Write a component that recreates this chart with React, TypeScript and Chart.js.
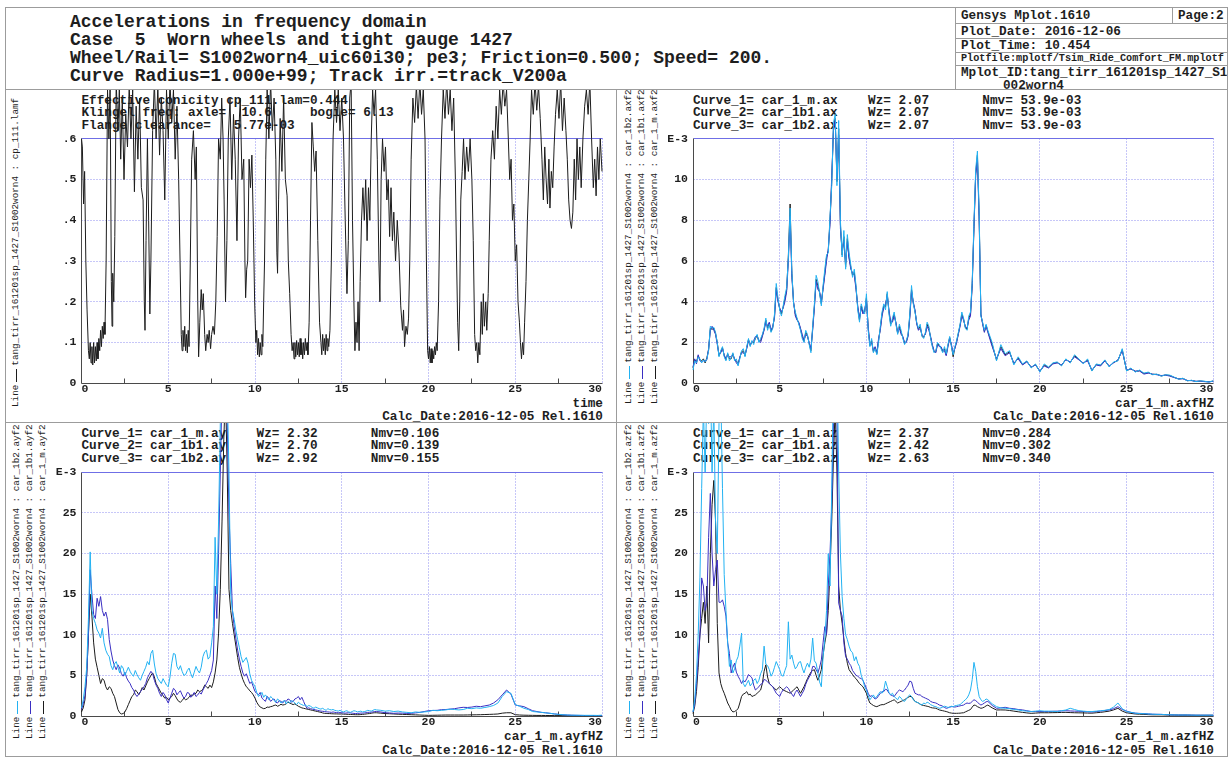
import React, { useEffect, useRef } from 'react';
import { Chart, registerables } from 'chart.js';

Chart.register(...registerables);

const FONT = '"Liberation Mono", "Courier New", Courier, monospace';
const TEXT = '#1e1e1e';
const LINE_GRAY = '#9c9c9c';
const GRID_BLUE = '#8f8ff0';
const FRAME_BLUE = '#6f6fe6';
const AXIS_DARK = '#4a4a4a';
const CURVE_BLACK = '#1c1c1c';
const CURVE_DARK_BLUE = '#3a2fc2';
const CURVE_LIGHT_BLUE = '#22b2f2';

// ---------- data ----------
const X_TICKS_HZ = [0, 5, 10, 15, 20, 25, 30];

// time [s], conicity cp_111.lamf
const CONICITY_SAMPLES: [number, number][] = [
  [0, 0.6], [0.05, 0.58], [0.12, 0.44], [0.18, 0.52], [0.25, 0.3], [0.32, 0.18], [0.4, 0.08], [0.45, 0.06], [0.5, 0.1], [0.55, 0.05],
  [0.6, 0.09], [0.65, 0.045], [0.7, 0.1], [0.75, 0.05], [0.8, 0.09], [0.85, 0.055], [0.9, 0.1], [0.95, 0.06], [1.0, 0.11], [1.05, 0.08],
  [1.1, 0.13], [1.15, 0.09], [1.2, 0.14], [1.25, 0.11], [1.3, 0.15], [1.35, 0.12], [1.42, 0.3], [1.5, 0.72], [1.58, 0.6], [1.65, 0.74],
  [1.72, 0.25], [1.76, 0.14], [1.8, 0.27], [1.86, 0.2], [1.92, 0.36], [2.0, 0.74], [2.1, 0.62], [2.18, 0.72], [2.26, 0.55], [2.35, 0.7],
  [2.45, 0.5], [2.55, 0.66], [2.65, 0.58], [2.75, 0.73], [2.85, 0.6], [2.95, 0.72], [3.05, 0.47], [3.15, 0.68], [3.25, 0.55], [3.35, 0.7],
  [3.45, 0.48], [3.55, 0.45], [3.62, 0.2], [3.66, 0.13], [3.72, 0.35], [3.8, 0.6], [3.87, 0.4], [3.94, 0.17], [4.0, 0.3], [4.1, 0.62],
  [4.2, 0.74], [4.3, 0.6], [4.4, 0.73], [4.5, 0.56], [4.6, 0.7], [4.7, 0.62], [4.8, 0.45], [4.9, 0.72], [5.0, 0.6], [5.1, 0.74],
  [5.2, 0.64], [5.3, 0.72], [5.4, 0.55], [5.5, 0.68], [5.6, 0.5], [5.68, 0.3], [5.75, 0.12], [5.8, 0.08], [5.85, 0.13], [5.9, 0.09],
  [5.95, 0.14], [6.0, 0.08], [6.05, 0.12], [6.1, 0.075], [6.15, 0.13], [6.2, 0.09], [6.27, 0.3], [6.35, 0.55], [6.45, 0.62], [6.55, 0.5],
  [6.62, 0.58], [6.7, 0.2], [6.75, 0.065], [6.82, 0.15], [6.9, 0.23], [6.96, 0.18], [7.02, 0.22], [7.1, 0.12], [7.16, 0.08], [7.24, 0.12],
  [7.3, 0.1], [7.36, 0.13], [7.44, 0.085], [7.5, 0.12], [7.58, 0.14], [7.66, 0.12], [7.74, 0.2], [7.82, 0.36], [7.9, 0.6], [8.0, 0.55],
  [8.08, 0.7], [8.16, 0.6], [8.22, 0.45], [8.3, 0.2], [8.38, 0.35], [8.46, 0.6], [8.56, 0.7], [8.66, 0.5], [8.76, 0.66], [8.86, 0.55],
  [8.96, 0.35], [9.05, 0.6], [9.15, 0.7], [9.25, 0.5], [9.35, 0.55], [9.42, 0.3], [9.46, 0.21], [9.52, 0.28], [9.58, 0.3], [9.66, 0.55],
  [9.74, 0.48], [9.82, 0.56], [9.9, 0.4], [9.98, 0.2], [10.05, 0.1], [10.1, 0.13], [10.15, 0.07], [10.2, 0.11], [10.25, 0.065], [10.3, 0.1],
  [10.35, 0.07], [10.4, 0.12], [10.45, 0.09], [10.5, 0.2], [10.55, 0.3], [10.62, 0.55], [10.7, 0.72], [10.8, 0.6], [10.9, 0.74], [11.0, 0.62],
  [11.1, 0.7], [11.2, 0.55], [11.26, 0.32], [11.3, 0.27], [11.36, 0.45], [11.45, 0.65], [11.55, 0.52], [11.65, 0.7], [11.75, 0.5], [11.85, 0.46],
  [11.92, 0.3], [12.0, 0.22], [12.08, 0.12], [12.14, 0.08], [12.2, 0.1], [12.25, 0.06], [12.3, 0.1], [12.35, 0.065], [12.4, 0.105], [12.45, 0.07],
  [12.5, 0.1], [12.55, 0.065], [12.6, 0.11], [12.65, 0.07], [12.7, 0.1], [12.75, 0.06], [12.8, 0.1], [12.85, 0.07], [12.9, 0.11], [12.95, 0.08],
  [13.0, 0.1], [13.05, 0.07], [13.12, 0.15], [13.2, 0.4], [13.28, 0.64], [13.36, 0.58], [13.44, 0.52], [13.52, 0.57], [13.62, 0.35], [13.72, 0.15],
  [13.8, 0.1], [13.85, 0.07], [13.9, 0.12], [13.95, 0.08], [14.0, 0.11], [14.05, 0.07], [14.1, 0.12], [14.15, 0.08], [14.2, 0.11], [14.25, 0.09],
  [14.32, 0.13], [14.4, 0.3], [14.5, 0.6], [14.6, 0.72], [14.7, 0.64], [14.8, 0.72], [14.9, 0.62], [15.0, 0.7], [15.1, 0.6], [15.2, 0.4],
  [15.3, 0.22], [15.38, 0.35], [15.46, 0.7], [15.54, 0.74], [15.62, 0.4], [15.7, 0.2], [15.76, 0.08], [15.82, 0.15], [15.88, 0.1], [15.94, 0.2],
  [16.0, 0.08], [16.06, 0.25], [16.14, 0.4], [16.22, 0.48], [16.3, 0.4], [16.38, 0.5], [16.46, 0.35], [16.54, 0.48], [16.62, 0.4], [16.7, 0.6],
  [16.78, 0.72], [16.86, 0.66], [16.95, 0.72], [17.05, 0.55], [17.14, 0.3], [17.2, 0.2], [17.27, 0.5], [17.35, 0.6], [17.44, 0.52], [17.52, 0.58],
  [17.6, 0.45], [17.68, 0.5], [17.76, 0.36], [17.84, 0.48], [17.92, 0.35], [18.0, 0.42], [18.1, 0.3], [18.2, 0.4], [18.3, 0.32], [18.4, 0.19],
  [18.5, 0.13], [18.56, 0.18], [18.62, 0.09], [18.7, 0.14], [18.78, 0.12], [18.85, 0.16], [18.92, 0.3], [19.0, 0.55], [19.1, 0.7], [19.2, 0.64],
  [19.3, 0.73], [19.4, 0.65], [19.5, 0.74], [19.6, 0.66], [19.7, 0.72], [19.8, 0.6], [19.88, 0.3], [19.95, 0.08], [20.0, 0.06], [20.05, 0.09],
  [20.1, 0.05], [20.15, 0.085], [20.2, 0.05], [20.25, 0.08], [20.3, 0.06], [20.35, 0.09], [20.4, 0.07], [20.45, 0.1], [20.5, 0.08], [20.58, 0.2],
  [20.66, 0.45], [20.75, 0.6], [20.85, 0.72], [20.95, 0.65], [21.05, 0.74], [21.15, 0.66], [21.25, 0.72], [21.35, 0.62], [21.45, 0.7], [21.55, 0.5],
  [21.62, 0.3], [21.68, 0.15], [21.74, 0.08], [21.8, 0.2], [21.86, 0.45], [21.94, 0.52], [22.02, 0.6], [22.1, 0.5], [22.2, 0.58], [22.3, 0.52],
  [22.4, 0.6], [22.5, 0.5], [22.58, 0.35], [22.66, 0.12], [22.72, 0.08], [22.78, 0.1], [22.84, 0.05], [22.9, 0.1], [22.96, 0.07], [23.04, 0.2],
  [23.1, 0.12], [23.16, 0.22], [23.22, 0.14], [23.3, 0.2], [23.36, 0.13], [23.44, 0.22], [23.5, 0.35], [23.6, 0.55], [23.7, 0.62], [23.8, 0.55],
  [23.9, 0.68], [24.0, 0.6], [24.1, 0.72], [24.2, 0.66], [24.3, 0.74], [24.4, 0.68], [24.5, 0.72], [24.6, 0.6], [24.68, 0.5], [24.76, 0.55],
  [24.84, 0.4], [24.92, 0.44], [25.0, 0.3], [25.08, 0.34], [25.16, 0.2], [25.24, 0.15], [25.3, 0.1], [25.36, 0.06], [25.42, 0.1], [25.48, 0.07],
  [25.54, 0.15], [25.62, 0.25], [25.7, 0.4], [25.78, 0.5], [25.86, 0.6], [25.94, 0.72], [26.04, 0.66], [26.14, 0.74], [26.24, 0.67], [26.34, 0.73],
  [26.44, 0.65], [26.54, 0.55], [26.62, 0.45], [26.7, 0.58], [26.78, 0.5], [26.86, 0.44], [26.94, 0.55], [27.0, 0.43], [27.08, 0.52], [27.16, 0.48],
  [27.24, 0.58], [27.32, 0.66], [27.42, 0.72], [27.52, 0.65], [27.62, 0.74], [27.72, 0.62], [27.82, 0.7], [27.92, 0.62], [28.0, 0.55], [28.08, 0.45],
  [28.16, 0.4], [28.24, 0.38], [28.32, 0.42], [28.4, 0.55], [28.48, 0.45], [28.56, 0.6], [28.64, 0.5], [28.72, 0.58], [28.8, 0.48], [28.9, 0.6],
  [29.0, 0.68], [29.1, 0.72], [29.2, 0.66], [29.3, 0.74], [29.4, 0.6], [29.5, 0.48], [29.58, 0.55], [29.66, 0.46], [29.74, 0.58], [29.82, 0.5],
  [29.9, 0.6], [30.0, 0.52],
];

// common frequency grid [Hz] for the spectra
const FREQ_HZ = [
  // 0 - 2.0
  0, 0.1, 0.2, 0.3, 0.4, 0.5, 0.6, 0.7, 0.8, 0.9, 1.0, 1.1, 1.2, 1.3, 1.4, 1.5, 1.6, 1.7, 1.8, 1.9, 2.0,
  // 2.1 - 7.6
  2.1, 2.2, 2.3, 2.4, 2.5, 2.6, 2.7, 2.8, 2.9, 3.0, 3.1, 3.2, 3.3, 3.4, 3.5, 3.6, 3.7, 3.8, 3.9, 4.0,
  4.1, 4.2, 4.3, 4.4, 4.5, 4.6, 4.7, 4.8, 4.9, 5.0, 5.1, 5.2, 5.3, 5.4, 5.5, 5.6, 5.7, 5.8, 5.9, 6.0,
  6.1, 6.2, 6.3, 6.4, 6.5, 6.6, 6.7, 6.8, 6.9, 7.0, 7.1, 7.2, 7.3, 7.4, 7.5, 7.6,
  // 7.7 - 9.0
  7.7, 7.8, 7.9, 8.0, 8.1, 8.2, 8.3, 8.4, 8.5, 8.6, 8.7, 8.8, 8.9, 9.0,
  // 9.1 - 17.0
  9.1, 9.2, 9.3, 9.4, 9.5, 9.6, 9.7, 9.8, 9.9, 10.0, 10.1, 10.2, 10.3, 10.4, 10.5, 10.6, 10.7, 10.8, 10.9, 11.0,
  11.1, 11.2, 11.3, 11.4, 11.5, 11.6, 11.7, 11.8, 11.9, 12.0, 12.1, 12.2, 12.3, 12.4, 12.5, 12.6, 12.7, 12.8, 12.9, 13.0,
  13.1, 13.2, 13.3, 13.4, 13.5, 13.6, 13.7, 13.8, 13.9, 14.0, 14.1, 14.2, 14.3, 14.4, 14.5, 14.6, 14.7, 14.8, 14.9, 15.0,
  15.1, 15.2, 15.3, 15.4, 15.5, 15.6, 15.7, 15.8, 15.9, 16.0, 16.1, 16.2, 16.3, 16.4, 16.5, 16.6, 16.7, 16.8, 16.9, 17.0,
  // 17.25 - 30
  17.25, 17.5, 17.75, 18, 18.25, 18.5, 18.75, 19, 19.25, 19.5, 19.75, 20, 20.25, 20.5, 20.75, 21, 21.25, 21.5, 21.75, 22,
  22.25, 22.5, 22.75, 23, 23.25, 23.5, 23.75, 24, 24.25, 24.5, 24.75, 25, 25.25, 25.5, 25.75, 26, 26.25, 26.5, 26.75, 27,
  27.25, 27.5, 27.75, 28, 28.25, 28.5, 28.75, 29, 29.25, 29.5, 29.75, 30,
];

// longitudinal (ax) spectra, E-3
const AX_CAR_1_M = [
  0.75, 1.15, 1.05, 1.35, 1.15, 1.1, 1.2, 1.0, 1.25, 1.65, 2.7, 2.65, 2.7, 2.45, 2.0, 1.35, 1.55, 1.75, 1.35, 1.15, 1.45,
  1.2, 1.2, 1.45, 1.15, 1.1, 0.95, 1.25, 1.55, 1.6, 1.35, 1.75, 2.15, 1.85, 2.05, 2.0, 2.2, 2.35, 2.05, 2.1, 2.35,
  2.65, 3.1, 2.7, 2.95, 2.55, 2.75, 3.3, 4.7, 4.1, 3.65, 3.4, 3.75, 4.15, 4.6, 6.3, 8.8, 5.4, 3.95, 3.4, 3.15,
  2.95, 2.65, 2.3, 2.05, 2.5, 2.35, 1.95, 1.6, 2.7, 3.8, 5.1, 4.8, 4.45, 3.9, 4.7, 5.4,
  6.2, 6.5, 8.0, 9.9, 12.6, 13.0, 9.9, 12.5, 7.8, 6.3, 7.2, 5.7, 7.1, 6.2,
  5.7, 5.3, 5.45, 4.7, 3.7, 3.1, 3.8, 3.5, 3.5, 4.2, 2.7, 1.85, 2.1, 1.55, 1.75, 1.45, 2.1, 2.7, 3.4, 3.8,
  3.75, 4.4, 3.5, 2.9, 3.1, 3.4, 2.95, 2.45, 2.8, 2.5, 2.25, 1.95, 2.05, 2.35, 3.3, 4.6, 3.95, 3.55, 2.95, 2.65,
  2.8, 2.35, 2.25, 2.45, 2.9, 2.7, 2.25, 1.85, 1.55, 1.55, 1.95, 1.85, 1.75, 1.55, 1.7, 1.4, 1.85, 2.25, 1.85, 1.3,
  1.75, 2.05, 2.45, 2.85, 3.4, 3.15, 2.75, 2.65, 3.2, 3.4, 4.9, 7.7, 10.3, 11.2, 8.2, 3.35, 2.95, 2.55, 2.85, 2.55,
  1.9, 1.15, 1.8, 1.4, 1.55, 0.95, 1.25, 0.92, 1.08, 0.78, 0.92, 0.58, 0.9, 0.78, 0.98, 1.02, 0.88, 1.18, 1.02, 1.35,
  1.18, 0.98, 1.15, 0.62, 0.92, 0.88, 1.12, 0.82, 1.02, 1.12, 1.65, 0.62, 0.72, 0.58, 0.62, 0.48, 0.52, 0.44, 0.44, 0.36,
  0.41, 0.38, 0.29, 0.21, 0.24, 0.13, 0.14, 0.09, 0.11, 0.09, 0.07, 0.11,
];
const AX_CAR_1B1 = [
  0.8, 1.2, 0.95, 1.4, 1.1, 1.05, 1.1, 1.1, 1.15, 1.7, 2.6, 2.8, 2.6, 2.4, 1.9, 1.4, 1.5, 1.7, 1.4, 1.2, 1.4,
  1.3, 1.3, 1.4, 1.2, 1.0, 0.9, 1.3, 1.5, 1.5, 1.4, 1.7, 2.1, 1.9, 2.0, 2.1, 2.3, 2.3, 2.1, 2.0, 2.3,
  2.6, 3.0, 2.8, 3.0, 2.6, 2.8, 3.2, 4.6, 4.0, 3.7, 3.5, 3.7, 4.0, 4.5, 6.0, 8.2, 5.2, 4.0, 3.3, 3.1,
  3.0, 2.7, 2.4, 2.1, 2.4, 2.3, 2.0, 1.7, 2.6, 3.7, 5.0, 4.6, 4.5, 4.0, 4.6, 5.3,
  6.0, 6.6, 7.8, 10.2, 12.4, 12.9, 10.1, 12.2, 7.6, 6.5, 7.0, 5.9, 6.9, 6.1,
  5.6, 5.4, 5.3, 4.6, 3.8, 3.2, 3.7, 3.4, 3.6, 4.1, 2.8, 1.9, 2.0, 1.6, 1.8, 1.5, 2.2, 2.6, 3.3, 3.7,
  3.9, 4.3, 3.6, 3.0, 3.0, 3.3, 3.0, 2.5, 2.7, 2.4, 2.3, 2.0, 2.0, 2.3, 3.2, 4.5, 4.0, 3.6, 2.9, 2.6,
  2.7, 2.4, 2.3, 2.4, 2.8, 2.6, 2.3, 1.9, 1.6, 1.5, 1.9, 1.8, 1.8, 1.6, 1.6, 1.35, 1.8, 2.2, 1.9, 1.5,
  1.7, 2.0, 2.4, 2.8, 3.3, 3.1, 2.8, 2.7, 3.1, 3.3, 4.8, 7.6, 10.2, 11.0, 8.0, 3.4, 2.9, 2.5, 2.8, 2.5,
  1.8, 1.2, 1.7, 1.35, 1.5, 1.0, 1.2, 0.9, 1.05, 0.8, 0.9, 0.6, 0.85, 0.75, 0.95, 1.0, 0.9, 1.15, 1.05, 1.3,
  1.15, 1.0, 1.1, 0.65, 0.9, 0.85, 1.1, 0.85, 1.0, 1.15, 1.6, 0.65, 0.7, 0.6, 0.6, 0.45, 0.5, 0.45, 0.42, 0.38,
  0.4, 0.35, 0.28, 0.22, 0.22, 0.14, 0.13, 0.1, 0.1, 0.08, 0.07, 0.1,
];
const AX_CAR_1B2 = [
  0.65, 1.1, 1.0, 1.3, 1.2, 1.0, 1.15, 1.05, 1.2, 1.6, 2.8, 2.7, 2.75, 2.5, 2.0, 1.3, 1.6, 1.8, 1.3, 1.1, 1.5,
  1.1, 1.25, 1.5, 1.1, 1.2, 0.85, 1.2, 1.6, 1.7, 1.3, 1.8, 2.2, 1.8, 2.1, 1.9, 2.25, 2.4, 2.0, 2.2, 2.4,
  2.7, 3.2, 2.6, 2.9, 2.5, 2.7, 3.4, 4.9, 4.2, 3.6, 3.3, 3.8, 4.3, 4.7, 6.2, 8.6, 5.5, 3.9, 3.5, 3.2,
  2.9, 2.6, 2.2, 2.0, 2.6, 2.4, 1.9, 1.5, 2.8, 3.9, 5.3, 5.0, 4.4, 3.8, 4.8, 5.6,
  6.3, 6.4, 8.2, 9.7, 12.8, 13.2, 9.7, 12.9, 8.0, 6.2, 7.5, 5.6, 7.3, 6.4,
  5.8, 5.2, 5.6, 4.8, 3.6, 3.0, 3.9, 3.6, 3.4, 4.4, 2.6, 1.8, 2.2, 1.5, 1.7, 1.4, 2.0, 2.8, 3.5, 3.9,
  3.6, 4.5, 3.4, 2.8, 3.2, 3.5, 2.9, 2.4, 2.9, 2.6, 2.2, 1.9, 2.1, 2.4, 3.4, 4.8, 3.9, 3.5, 3.0, 2.7,
  2.9, 2.3, 2.2, 2.5, 3.0, 2.8, 2.2, 1.8, 1.5, 1.6, 2.0, 1.9, 1.7, 1.5, 1.8, 1.45, 1.9, 2.3, 1.8, 1.4,
  1.8, 2.1, 2.5, 2.9, 3.5, 3.2, 2.7, 2.6, 3.3, 3.5, 5.0, 7.9, 10.5, 11.4, 8.4, 3.3, 3.0, 2.6, 2.9, 2.6,
  2.0, 1.1, 1.9, 1.45, 1.6, 0.9, 1.3, 0.95, 1.1, 0.75, 0.95, 0.55, 0.95, 0.8, 1.0, 1.05, 0.85, 1.2, 1.0, 1.4,
  1.2, 0.95, 1.2, 0.6, 0.95, 0.9, 1.15, 0.8, 1.05, 1.1, 1.7, 0.6, 0.75, 0.55, 0.65, 0.5, 0.55, 0.42, 0.45, 0.35,
  0.42, 0.4, 0.3, 0.2, 0.25, 0.12, 0.15, 0.08, 0.12, 0.1, 0.06, 0.12,
];

// lateral (ay) spectra, E-3
const AY_CAR_1_M = [
  0.5, 1.0, 2.0, 5, 10, 15, 12.3, 9, 7, 6, 5.0, 4.0, 4.6, 4.4, 3.6, 3.2, 3.6, 3.4, 2.8, 2.4, 1.6,
  0.8, 0.4, 0.25, 0.3, 0.5, 0.9, 1.4, 1.9, 2.4, 2.6, 3.2, 3.0, 2.6, 3.0, 3.5, 3.2, 3.7, 4.2, 4.6, 5.0,
  5.3, 4.8, 4.0, 3.6, 3.2, 2.8, 2.5, 2.2, 2.3, 2.0, 2.2, 2.4, 2.8, 2.5, 2.1, 1.8, 1.7, 1.9, 2.2, 2.0,
  2.1, 2.3, 2.6, 2.5, 2.7, 2.8, 3.2, 3.0, 3.1, 3.3, 3.8, 3.6, 3.4, 3.8, 3.5, 4.2,
  5.3, 6.9, 10.2, 15.6, 24, 34, 40, 30, 15.6, 13, 11.4, 10, 8.6, 7.2,
  6.0, 5.2, 4.5, 4.0, 3.6, 3.4, 3.1, 2.9, 2.6, 2.2, 1.7, 1.35, 1.1, 1.0, 0.9, 0.95, 1.1, 1.07, 1.15, 1.2,
  1.3, 1.35, 1.2, 1.3, 1.45, 1.35, 1.4, 1.5, 1.7, 1.6, 1.5, 1.4, 1.5, 1.35, 1.2, 1.1, 1.0, 0.95, 0.9, 0.85,
  0.8, 0.75, 0.7, 0.65, 0.6, 0.55, 0.5, 0.45, 0.38, 0.33, 0.32, 0.3, 0.3, 0.28, 0.27, 0.26, 0.26, 0.25, 0.25, 0.25,
  0.23, 0.22, 0.21, 0.2, 0.19, 0.18, 0.17, 0.16, 0.16, 0.16, 0.18, 0.2, 0.22, 0.25, 0.28, 0.3, 0.34, 0.38, 0.4, 0.4,
  0.35, 0.3, 0.28, 0.25, 0.22, 0.2, 0.18, 0.16, 0.14, 0.12, 0.1, 0.08, 0.09, 0.1, 0.11, 0.12, 0.12, 0.12, 0.12, 0.12,
  0.13, 0.14, 0.15, 0.16, 0.18, 0.2, 0.22, 0.25, 0.35, 0.4, 0.4, 0.16, 0.12, 0.1, 0.09, 0.08, 0.07, 0.07, 0.06, 0.06,
  0.05, 0.05, 0.05, 0.05, 0.05, 0.05, 0.05, 0.05, 0.05, 0.05, 0.05, 0.05,
];
const AY_CAR_1B1 = [
  0.8, 1.5, 2.5, 5, 10, 18, 15, 12.5, 12, 14.5, 13.5, 14.7, 13.0, 12.3, 12.8, 11.9, 9.4, 8.0, 6.9, 6.2, 5.7,
  6.3, 5.9, 5.2, 4.9, 5.4, 4.7, 4.3, 4.0, 3.5, 3.2, 2.7, 2.4, 2.7, 3.0, 3.3, 3.6, 4.0, 4.7, 5.1, 5.5,
  5.2, 4.4, 3.8, 3.4, 2.8, 2.4, 2.9, 2.6, 2.0, 1.6, 2.2, 2.8, 3.4, 3.2, 2.6, 2.9, 3.1, 2.6, 2.2, 2.4,
  2.9, 2.8, 2.3, 2.6, 2.9, 2.4, 2.6, 2.9, 2.7, 3.2, 3.6, 4.0, 4.4, 5.0, 5.6, 6.9,
  16, 12, 20, 30, 40, 44, 42, 36, 25, 18.8, 13, 11, 9.5, 8.1,
  7.0, 6.1, 5.3, 4.9, 5.2, 4.6, 4.0, 4.2, 3.6, 3.0, 2.8, 2.6, 2.9, 2.2, 2.0, 1.8, 2.4, 2.2, 1.8, 2.0,
  2.1, 1.7, 1.6, 1.9, 1.8, 1.6, 1.9, 1.8, 2.1, 2.0, 1.7, 1.8, 2.1, 2.2, 2.4, 2.0, 2.3, 1.8, 1.3, 0.95,
  1.0, 0.9, 0.85, 0.8, 0.75, 0.7, 0.65, 0.6, 0.58, 0.55, 0.52, 0.5, 0.48, 0.45, 0.5, 0.45, 0.42, 0.4, 0.42, 0.4,
  0.38, 0.35, 0.38, 0.4, 0.38, 0.35, 0.32, 0.3, 0.32, 0.33, 0.36, 0.35, 0.38, 0.4, 0.45, 0.45, 0.48, 0.5, 0.55, 0.55,
  0.5, 0.4, 0.38, 0.33, 0.36, 0.35, 0.32, 0.33, 0.38, 0.45, 0.55, 0.65, 0.68, 0.7, 0.78, 0.8, 0.85, 0.9, 1.0, 1.07,
  1.05, 1.1, 1.2, 1.15, 1.25, 1.35, 1.6, 2.0, 2.6, 3.2, 2.7, 1.35, 1.25, 1.15, 0.9, 0.65, 0.55, 0.45, 0.4, 0.33,
  0.26, 0.2, 0.15, 0.12, 0.1, 0.08, 0.07, 0.06, 0.06, 0.05, 0.05, 0.05,
];
const AY_CAR_1B2 = [
  1.0, 2.0, 3.6, 6.0, 12, 20.2, 13, 12, 11.4, 10.6, 10.2, 9.6, 10.8, 9.0, 8.1, 7.6, 7.3, 6.2, 5.7, 6.4, 6.7,
  6.0, 5.3, 6.2, 5.9, 5.0, 5.5, 6.0, 5.5, 5.1, 4.9, 5.6, 5.1, 4.7, 4.4, 5.0, 5.5, 6.0, 6.7, 6.3, 7.7,
  8.1, 6.4, 5.2, 4.6, 4.3, 4.0, 4.6, 4.2, 3.8, 3.6, 4.8, 6.5, 7.7, 7.6, 6.1, 5.7, 6.2, 5.5, 5.0, 5.1,
  5.6, 5.9, 5.2, 4.7, 5.4, 6.1, 5.6, 5.3, 6.0, 7.3, 7.9, 8.1, 7.0, 7.3, 9.0, 11.0,
  22.0, 15, 24, 36, 42, 45, 44, 40, 30, 15.0, 13.0, 11.9, 10.5, 9.4,
  8.4, 7.3, 6.6, 6.9, 7.2, 6.5, 5.2, 4.4, 4.0, 3.6, 2.9, 2.4, 2.6, 2.9, 2.3, 2.6, 2.3, 2.0, 2.4, 2.2,
  1.9, 1.7, 2.1, 1.9, 1.6, 1.8, 1.9, 1.5, 1.8, 1.6, 1.9, 1.8, 1.6, 1.4, 1.7, 1.5, 1.4, 1.3, 1.4, 1.15,
  1.3, 1.2, 1.05, 0.95, 1.1, 1.0, 0.9, 0.85, 0.95, 0.8, 0.7, 0.9, 0.8, 0.75, 0.8, 0.7, 0.65, 0.6, 0.7, 0.55,
  0.5, 0.6, 0.65, 0.5, 0.45, 0.55, 0.65, 0.6, 0.5, 0.55, 0.6, 0.5, 0.55, 0.6, 0.7, 0.65, 0.6, 0.7, 0.8, 0.75,
  0.7, 0.6, 0.65, 0.55, 0.6, 0.5, 0.45, 0.4, 0.5, 0.45, 0.5, 0.55, 0.7, 0.65, 0.7, 0.75, 0.85, 0.8, 0.75, 0.8,
  0.95, 0.9, 1.0, 0.95, 1.05, 1.15, 1.3, 1.6, 2.4, 3.0, 2.8, 1.4, 1.2, 0.95, 0.8, 0.55, 0.5, 0.45, 0.38, 0.33,
  0.25, 0.2, 0.15, 0.12, 0.1, 0.1, 0.09, 0.08, 0.08, 0.08, 0.07, 0.1,
];

// vertical (az) spectra, E-3
const AZ_CAR_1_M = [
  0.3, 1.2, 3, 6, 10, 12, 14, 11.4, 16, 9, 20, 26, 29, 24, 11.4, 5.3, 4.0, 3.3, 2.8, 2.2, 1.6,
  1.2, 0.74, 0.5, 0.55, 0.7, 0.9, 1.6, 2.4, 2.7, 2.8, 3.0, 2.6, 2.7, 2.4, 2.5, 2.6, 2.8, 3.0, 3.2, 4.0,
  5.5, 6.3, 4.8, 4.0, 3.8, 3.6, 3.4, 3.2, 3.4, 3.6, 3.4, 3.2, 3.1, 3.0, 2.9, 2.8, 3.0, 3.2, 3.4, 3.6,
  3.2, 2.8, 3.2, 3.6, 4.1, 4.6, 5.0, 5.4, 5.6, 5.7, 5.0, 4.4, 5.0, 5.7, 7.5, 9.0,
  10.2, 13, 18, 24, 32, 38, 30, 16, 13, 11.4, 9.5, 7.7, 6.5, 5.7,
  5.4, 5.1, 4.8, 4.6, 4.3, 4.0, 3.8, 3.6, 3.2, 2.8, 2.1, 1.6, 1.45, 1.3, 1.2, 1.15, 1.25, 1.35, 1.4, 1.4,
  1.5, 1.6, 1.7, 1.8, 1.9, 2.0, 1.8, 1.6, 1.7, 1.8, 1.9, 2.0, 2.15, 2.3, 2.4, 2.4, 2.1, 1.8, 1.7, 1.6,
  1.45, 1.35, 1.3, 1.25, 1.2, 1.15, 1.05, 1.0, 0.98, 0.95, 0.85, 0.75, 0.7, 0.65, 0.6, 0.55, 0.48, 0.4, 0.36, 0.33,
  0.33, 0.33, 0.34, 0.35, 0.38, 0.4, 0.5, 0.6, 0.7, 0.8, 1.1, 1.35, 1.3, 1.15, 1.05, 0.95, 1.0, 1.1, 1.25, 1.35,
  1.0, 0.74, 0.75, 0.74, 0.68, 0.6, 0.52, 0.45, 0.38, 0.33, 0.36, 0.4, 0.4, 0.4, 0.41, 0.42, 0.44, 0.45, 0.42, 0.4,
  0.39, 0.38, 0.36, 0.35, 0.4, 0.45, 0.52, 0.6, 0.75, 0.95, 0.6, 0.4, 0.32, 0.25, 0.22, 0.2, 0.17, 0.15, 0.15, 0.15,
  0.13, 0.12, 0.11, 0.1, 0.1, 0.1, 0.09, 0.08, 0.08, 0.08, 0.08, 0.08,
];
const AZ_CAR_1B1 = [
  0.5, 1.5, 4, 7, 10, 17, 16, 13, 14, 22, 27.4, 20, 16, 18, 19.2, 14, 14, 14.3, 13.5, 12.3, 9,
  7.7, 5.3, 6.0, 6.5, 5.4, 4.9, 4.5, 4.0, 4.4, 4.2, 4.6, 5.1, 4.9, 4.7, 3.8, 3.2, 3.4, 3.6, 3.9, 4.0,
  4.5, 4.4, 4.2, 4.0, 3.8, 3.6, 3.2, 2.8, 2.6, 2.4, 2.9, 3.2, 3.4, 3.6, 3.4, 3.0, 2.7, 2.4, 2.9, 3.2,
  2.8, 2.4, 2.8, 3.2, 3.9, 4.4, 4.8, 5.2, 6.1, 6.1, 5.7, 5.3, 6.0, 6.9, 9.0, 11.0,
  10, 16, 20, 26, 36, 42, 38, 13.9, 13, 12.3, 9, 7.3, 7.0, 6.5,
  6.2, 5.6, 5.3, 5.0, 4.9, 4.7, 4.6, 4.4, 3.9, 3.4, 2.8, 2.4, 2.5, 2.3, 2.1, 2.2, 2.5, 2.8, 3.0, 3.0,
  3.3, 3.2, 2.8, 2.6, 2.5, 2.4, 2.7, 3.0, 3.2, 3.1, 3.0, 3.2, 3.5, 3.8, 4.3, 4.2, 3.4, 2.8, 2.7, 2.6,
  2.6, 2.4, 2.3, 2.2, 2.1, 2.0, 1.8, 1.7, 1.65, 1.6, 1.5, 1.35, 1.3, 1.2, 1.05, 0.95, 1.0, 1.1, 1.15, 1.15,
  1.1, 1.15, 1.2, 1.25, 1.3, 1.35, 1.5, 1.6, 1.55, 1.6, 1.8, 2.0, 1.9, 1.7, 1.5, 1.35, 1.45, 1.6, 1.75, 1.8,
  1.3, 0.95, 1.0, 1.07, 0.95, 0.9, 0.8, 0.75, 0.65, 0.55, 0.55, 0.55, 0.55, 0.55, 0.58, 0.6, 0.62, 0.65, 0.62, 0.6,
  0.58, 0.55, 0.52, 0.5, 0.55, 0.6, 0.68, 0.75, 0.9, 1.15, 0.8, 0.6, 0.45, 0.35, 0.32, 0.3, 0.26, 0.22, 0.21, 0.2,
  0.17, 0.15, 0.13, 0.12, 0.12, 0.12, 0.11, 0.1, 0.1, 0.1, 0.1, 0.1,
];
const AZ_CAR_1B2 = [
  0.5, 2.0, 5.0, 10, 17, 28, 38, 30, 40, 36, 42, 30, 38, 24, 20, 36, 40, 28, 17.4, 13, 9,
  6.1, 6.9, 5.3, 5.8, 6.8, 7.3, 8.6, 10.2, 4.0, 3.6, 4.0, 4.4, 3.7, 4.0, 4.4, 4.6, 4.0, 4.4, 5.2, 5.7,
  8.6, 6.4, 6.2, 5.7, 4.9, 5.3, 6.0, 6.7, 6.2, 5.7, 5.0, 4.9, 5.6, 6.2, 11.6, 7.0, 7.5, 6.5, 5.8, 6.1,
  6.6, 6.7, 5.9, 5.3, 6.0, 6.5, 6.0, 7.0, 9.6, 6.8, 6.5, 5.3, 4.2, 3.6, 7.3, 9.4,
  13, 20, 16, 28, 42, 45, 44, 30, 20, 14.7, 12, 10, 9.4, 8.6,
  8.0, 7.8, 6.8, 7.3, 6.5, 6.1, 5.0, 4.4, 3.6, 3.2, 2.5, 2.0, 2.3, 2.6, 2.2, 2.4, 2.7, 3.0, 2.8, 3.2,
  4.3, 3.6, 2.9, 2.6, 2.8, 2.4, 2.2, 2.0, 2.4, 2.2, 1.9, 1.8, 2.1, 2.4, 2.6, 2.4, 2.0, 1.8, 1.7, 1.6,
  1.45, 1.35, 1.6, 1.5, 1.7, 1.6, 1.4, 1.3, 1.2, 1.15, 1.05, 0.95, 1.0, 1.1, 1.2, 1.15, 1.05, 1.1, 1.2, 1.15,
  1.25, 1.3, 1.35, 1.4, 1.6, 1.8, 2.0, 2.2, 2.6, 3.2, 4.5, 6.6, 5.5, 3.6, 2.4, 2.0, 1.8, 1.9, 2.1, 2.0,
  1.5, 1.15, 1.0, 0.95, 0.9, 0.8, 0.75, 0.65, 0.6, 0.55, 0.6, 0.65, 0.6, 0.6, 0.58, 0.55, 0.65, 0.74, 0.95, 0.8,
  0.65, 0.6, 0.55, 0.55, 0.6, 0.65, 0.7, 0.8, 1.1, 1.6, 0.9, 0.55, 0.45, 0.35, 0.3, 0.28, 0.25, 0.22, 0.2, 0.2,
  0.17, 0.15, 0.13, 0.12, 0.12, 0.12, 0.11, 0.1, 0.1, 0.1, 0.1, 0.1,
];

// ---------- drawing helpers ----------
type Rect = { x: number; y: number; w: number; h: number };
type Area = { l: number; t: number; r: number; b: number };
type Series = { xs: number[]; ys: number[]; color: string };

const TICK_FONT = { family: FONT, size: 11.5, weight: 'bold' as const };

const mplotFrame = {
  id: 'mplotFrame',
  beforeDatasetsDraw(chart: any) {
    const { ctx, scales } = chart;
    const xs = scales.x;
    const ys = scales.y;
    const px = (v: number) => Math.floor(xs.getPixelForValue(v)) + 0.5;
    const py = (v: number) => Math.floor(ys.getPixelForValue(v)) + 0.5;
    const seg = (x1: number, y1: number, x2: number, y2: number) => {
      ctx.beginPath();
      ctx.moveTo(x1, y1);
      ctx.lineTo(x2, y2);
      ctx.stroke();
    };
    const left = px(xs.min);
    const right = px(xs.max);
    const top = py(ys.max);
    const bottom = py(ys.min);
    ctx.save();
    ctx.lineWidth = 1;
    ctx.setLineDash([1, 2]);
    ctx.strokeStyle = GRID_BLUE;
    for (const t of xs.ticks) {
      if (t.value <= xs.min) continue;
      const x = px(t.value);
      seg(x, top, x, bottom);
    }
    for (const t of ys.ticks) {
      if (t.value <= ys.min || t.value >= ys.max) continue;
      const y = py(t.value);
      seg(left, y, right, y);
    }
    ctx.setLineDash([]);
    ctx.strokeStyle = FRAME_BLUE;
    seg(left, top, right, top);
    ctx.strokeStyle = AXIS_DARK;
    seg(left, top, left, bottom);
    seg(left, bottom, right, bottom);
    for (let i = 0; i < xs.ticks.length - 1; i++) {
      const mid = (xs.ticks[i].value + xs.ticks[i + 1].value) / 2;
      const x = px(mid);
      seg(x, bottom, x, bottom - 5);
    }
    ctx.restore();
  },
};

function PlotCanvas(props: {
  panel: Rect;
  area: Area;
  series: Series[];
  yMax: number;
  yStep: number;
  yLabel: (v: number) => string;
}) {
  const { panel, area, series, yMax, yStep, yLabel } = props;
  const ref = useRef<HTMLCanvasElement | null>(null);
  useEffect(() => {
    const canvas = ref.current;
    if (!canvas) return;
    const chart = new Chart(canvas, {
      type: 'line',
      data: {
        datasets: series.map((s) => ({
          data: s.xs.map((x, i) => ({ x, y: s.ys[i] })).filter((p) => typeof p.y === 'number'),
          borderColor: s.color,
          backgroundColor: s.color,
          borderWidth: 1,
          pointRadius: 0,
          pointHoverRadius: 0,
          fill: false,
          tension: 0,
          clip: false as any,
        })),
      },
      options: {
        animation: false,
        responsive: false,
        maintainAspectRatio: false,
        events: [],
        layout: {
          padding: { left: 0, top: area.t - panel.y, right: panel.x + panel.w - area.r, bottom: 0 },
        },
        plugins: { legend: { display: false }, tooltip: { enabled: false }, title: { display: false } },
        scales: {
          x: {
            type: 'linear',
            min: 0,
            max: 30,
            grid: { display: false, drawTicks: false },
            border: { display: false },
            afterFit: (s: any) => {
              s.height = panel.y + panel.h - area.b;
            },
            afterBuildTicks: (s: any) => {
              s.ticks = X_TICKS_HZ.map((v) => ({ value: v }));
            },
            ticks: {
              autoSkip: false,
              maxRotation: 0,
              minRotation: 0,
              align: 'inner' as any,
              padding: -1,
              color: TEXT,
              font: TICK_FONT,
              callback: (v: any) => String(v),
            },
          },
          y: {
            type: 'linear',
            min: 0,
            max: yMax,
            grid: { display: false, drawTicks: false },
            border: { display: false },
            afterFit: (s: any) => {
              s.width = area.l - panel.x;
            },
            ticks: {
              stepSize: yStep,
              autoSkip: false,
              padding: 5,
              color: TEXT,
              font: TICK_FONT,
              callback: (v: any) => yLabel(Number(v)),
            },
          },
        },
      } as any,
      plugins: [mplotFrame],
    });
    return () => chart.destroy();
  }, []);
  return (
    <canvas
      ref={ref}
      width={panel.w}
      height={panel.h}
      style={{ position: 'absolute', left: panel.x, top: panel.y, width: panel.w, height: panel.h, zIndex: 2 }}
    />
  );
}

function Txt(props: { x: number; y: number; size?: number; bold?: boolean; lh?: number; right?: boolean; children: React.ReactNode }) {
  const { x, y, size = 12.7, bold = true, lh = 14, right = false, children } = props;
  const style: React.CSSProperties = {
    position: 'absolute',
    top: y,
    font: `${bold ? 'bold ' : ''}${size}px ${FONT}`,
    lineHeight: `${lh}px`,
    whiteSpace: 'pre',
    color: TEXT,
    zIndex: 1,
  };
  if (right) {
    style.left = x - 500;
    style.width = 500;
    style.textAlign = 'right';
  } else {
    style.left = x;
  }
  return <div style={style}>{children}</div>;
}

function VLegend(props: { cx: number; bottom: number; color: string; text: string }) {
  const lh = 10;
  return (
    <div
      style={{
        position: 'absolute',
        left: props.cx - lh / 2,
        top: props.bottom,
        height: lh,
        transformOrigin: '0 0',
        transform: 'rotate(-90deg)',
        display: 'flex',
        alignItems: 'center',
        whiteSpace: 'pre',
        font: `9.3px ${FONT}`,
        lineHeight: `${lh}px`,
        color: TEXT,
        zIndex: 1,
      }}
    >
      <span>Line</span>
      <span style={{ display: 'inline-block', width: 13, height: 1, background: props.color, margin: '0 3px' }} />
      <span>{props.text}</span>
    </div>
  );
}

function HLine({ x1, x2, y }: { x1: number; x2: number; y: number }) {
  return <div style={{ position: 'absolute', left: x1, top: y, width: x2 - x1 + 1, height: 1, background: LINE_GRAY, zIndex: 3 }} />;
}
function VLine({ x, y1, y2 }: { x: number; y1: number; y2: number }) {
  return <div style={{ position: 'absolute', left: x, top: y1, width: 1, height: y2 - y1 + 1, background: LINE_GRAY, zIndex: 3 }} />;
}

const PANEL_TL: Rect = { x: 6, y: 90, w: 610, h: 332 };
const PANEL_TR: Rect = { x: 617, y: 90, w: 610, h: 332 };
const PANEL_BL: Rect = { x: 6, y: 423, w: 610, h: 333 };
const PANEL_BR: Rect = { x: 617, y: 423, w: 610, h: 333 };
const AREA_TL: Area = { l: 81.5, t: 138.8, r: 602, b: 383.3 };
const AREA_TR: Area = { l: 693, t: 138.8, r: 1213.3, b: 383.3 };
const AREA_BL: Area = { l: 81.5, t: 472.3, r: 602, b: 716 };
const AREA_BR: Area = { l: 693, t: 472.3, r: 1213.3, b: 716 };

const conicityLabel = (v: number) => (Math.abs(v) < 1e-9 ? '0' : '.' + Math.round(v * 10));
const e3Label = (max: number) => (v: number) => (Math.abs(v - max) < 1e-9 ? 'E-3' : String(Math.round(v)));

const LEG_PREFIX = 'tang_tirr_161201sp_1427_S1002worn4 : ';

export default function App() {
  const tlSeries: Series[] = [
    { xs: CONICITY_SAMPLES.map((p) => p[0]), ys: CONICITY_SAMPLES.map((p) => p[1]), color: CURVE_BLACK },
  ];
  const trSeries: Series[] = [
    { xs: FREQ_HZ, ys: AX_CAR_1B2, color: CURVE_LIGHT_BLUE },
    { xs: FREQ_HZ, ys: AX_CAR_1B1, color: CURVE_DARK_BLUE },
    { xs: FREQ_HZ, ys: AX_CAR_1_M, color: CURVE_BLACK },
  ];
  const blSeries: Series[] = [
    { xs: FREQ_HZ, ys: AY_CAR_1B2, color: CURVE_LIGHT_BLUE },
    { xs: FREQ_HZ, ys: AY_CAR_1B1, color: CURVE_DARK_BLUE },
    { xs: FREQ_HZ, ys: AY_CAR_1_M, color: CURVE_BLACK },
  ];
  const brSeries: Series[] = [
    { xs: FREQ_HZ, ys: AZ_CAR_1B2, color: CURVE_LIGHT_BLUE },
    { xs: FREQ_HZ, ys: AZ_CAR_1B1, color: CURVE_DARK_BLUE },
    { xs: FREQ_HZ, ys: AZ_CAR_1_M, color: CURVE_BLACK },
  ];

  return (
    <div style={{ position: 'absolute', left: 0, top: 0, width: 1230, height: 758, background: '#fff', overflow: 'hidden' }}>
      {/* header, left box */}
      <Txt x={70} y={13} size={18} lh={18}>
        {'Accelerations in frequency domain\nCase  5  Worn wheels and tight gauge 1427\nWheel/Rail= S1002worn4_uic60i30; pe3; Friction=0.500; Speed= 200.\nCurve Radius=1.000e+99; Track irr.=track_V200a'}
      </Txt>
      {/* header, right box */}
      <Txt x={961} y={8.5}>Gensys Mplot.1610</Txt>
      <Txt x={1178} y={8.5}>Page:2</Txt>
      <Txt x={961} y={24.5}>Plot_Date: 2016-12-06</Txt>
      <Txt x={961} y={38.5}>Plot_Time: 10.454</Txt>
      <Txt x={961} y={53} size={10.2} lh={12}>Plotfile:mplotf/Tsim_Ride_Comfort_FM.mplotf</Txt>
      <Txt x={961} y={65.5}>Mplot_ID:tang_tirr_161201sp_1427_S1</Txt>
      <Txt x={1003} y={78.5}>002worn4</Txt>

      {/* panel texts */}
      <Txt x={81.5} y={95} lh={12.3}>
        {'Effective conicity cp_111.lam=0.444\nKlingel freq: axle=  10.6     bogie= 6.13\nFlange clearance=   5.77e-03'}
      </Txt>
      <Txt x={693} y={95} lh={12.3}>
        {'Curve_1= car_1_m.ax    Wz= 2.07       Nmv= 53.9e-03\nCurve_2= car_1b1.ax    Wz= 2.07       Nmv= 53.9e-03\nCurve_3= car_1b2.ax    Wz= 2.07       Nmv= 53.9e-03'}
      </Txt>
      <Txt x={81.5} y={428} lh={12.3}>
        {'Curve_1= car_1_m.ay    Wz= 2.32       Nmv=0.106\nCurve_2= car_1b1.ay    Wz= 2.70       Nmv=0.139\nCurve_3= car_1b2.ay    Wz= 2.92       Nmv=0.155'}
      </Txt>
      <Txt x={693} y={428} lh={12.3}>
        {'Curve_1= car_1_m.az    Wz= 2.37       Nmv=0.284\nCurve_2= car_1b1.az    Wz= 2.42       Nmv=0.302\nCurve_3= car_1b2.az    Wz= 2.63       Nmv=0.340'}
      </Txt>

      <Txt x={603} y={397} right>time</Txt>
      <Txt x={603} y={410} right>Calc_Date:2016-12-05 Rel.1610</Txt>
      <Txt x={1214} y={397} right>car_1_m.axfHZ</Txt>
      <Txt x={1214} y={410} right>Calc_Date:2016-12-05 Rel.1610</Txt>
      <Txt x={603} y={730} right>car_1_m.ayfHZ</Txt>
      <Txt x={603} y={744} right>Calc_Date:2016-12-05 Rel.1610</Txt>
      <Txt x={1214} y={730} right>car_1_m.azfHZ</Txt>
      <Txt x={1214} y={744} right>Calc_Date:2016-12-05 Rel.1610</Txt>

      {/* rotated legends */}
      <VLegend cx={16} bottom={407} color={CURVE_BLACK} text={LEG_PREFIX + 'cp_111.lamf'} />
      <VLegend cx={628.5} bottom={404} color={CURVE_LIGHT_BLUE} text={LEG_PREFIX + 'car_1b2.axf2'} />
      <VLegend cx={641.8} bottom={404} color={CURVE_DARK_BLUE} text={LEG_PREFIX + 'car_1b1.axf2'} />
      <VLegend cx={655} bottom={404} color={CURVE_BLACK} text={LEG_PREFIX + 'car_1_m.axf2'} />
      <VLegend cx={17} bottom={739} color={CURVE_LIGHT_BLUE} text={LEG_PREFIX + 'car_1b2.ayf2'} />
      <VLegend cx={30} bottom={739} color={CURVE_DARK_BLUE} text={LEG_PREFIX + 'car_1b1.ayf2'} />
      <VLegend cx={43} bottom={739} color={CURVE_BLACK} text={LEG_PREFIX + 'car_1_m.ayf2'} />
      <VLegend cx={628.5} bottom={739} color={CURVE_LIGHT_BLUE} text={LEG_PREFIX + 'car_1b2.azf2'} />
      <VLegend cx={641.8} bottom={739} color={CURVE_DARK_BLUE} text={LEG_PREFIX + 'car_1b1.azf2'} />
      <VLegend cx={655} bottom={739} color={CURVE_BLACK} text={LEG_PREFIX + 'car_1_m.azf2'} />

      {/* charts */}
      <PlotCanvas panel={PANEL_TL} area={AREA_TL} series={tlSeries} yMax={0.6} yStep={0.1} yLabel={conicityLabel} />
      <PlotCanvas panel={PANEL_TR} area={AREA_TR} series={trSeries} yMax={12} yStep={2} yLabel={e3Label(12)} />
      <PlotCanvas panel={PANEL_BL} area={AREA_BL} series={blSeries} yMax={30} yStep={5} yLabel={e3Label(30)} />
      <PlotCanvas panel={PANEL_BR} area={AREA_BR} series={brSeries} yMax={30} yStep={5} yLabel={e3Label(30)} />

      {/* frame lines */}
      <HLine x1={5} x2={1227} y={7} />
      <HLine x1={5} x2={1227} y={89} />
      <HLine x1={5} x2={1227} y={422} />
      <HLine x1={5} x2={1227} y={756} />
      <VLine x={5} y1={7} y2={756} />
      <VLine x={1227} y1={7} y2={756} />
      <VLine x={955} y1={7} y2={89} />
      <VLine x={616} y1={89} y2={756} />
      <HLine x1={955} x2={1227} y={23} />
      <HLine x1={955} x2={1227} y={38} />
      <HLine x1={955} x2={1227} y={52} />
      <HLine x1={955} x2={1227} y={65} />
      <VLine x={1172} y1={7} y2={23} />
    </div>
  );
}
